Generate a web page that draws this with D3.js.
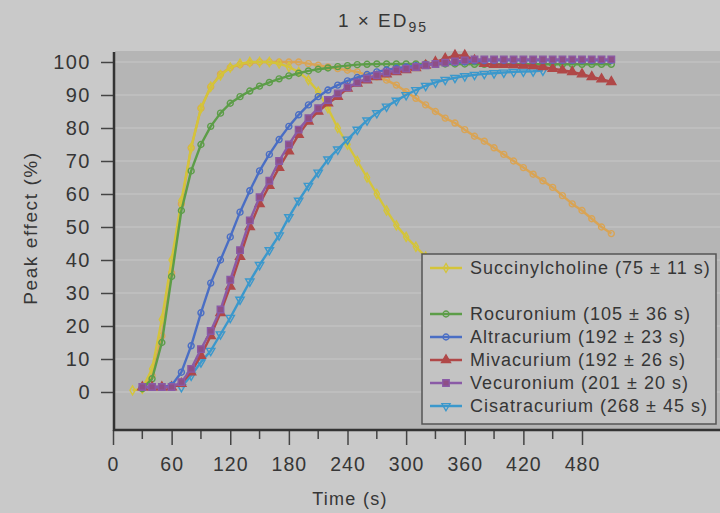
<!DOCTYPE html>
<html><head><meta charset="utf-8">
<script src="https://cdnjs.cloudflare.com/ajax/libs/d3/7.8.5/d3.min.js"></script>
<style>
html,body{margin:0;padding:0;background:#c9c9c9;}
svg{display:block;font-family:"Liberation Sans",Arial,sans-serif;}
</style></head><body>
<svg id="c" width="720" height="513"></svg>
<script>
// ---- data ----
const times = [20,30,40,50,60,70,80,90,100,110,120,130,140,150,160,170,180,190,200,210,220,230,240,250,260,270,280,290,300,310,320,330,340,350,360,370,380,390,400,410,420,430,440,450,460,470,480,490,500,510];
const succinylcholine = [0.5,1,7,22,40,58,74,86,92.5,96,98.3,99.5,100,100,100,99.5,98.5,97,94.5,91,86,80,75,70,65,60,55,50.5,47,44,41,38,null,null,null,null,null,null,null,null,null,null,null,null,null,null,null,null,null,null];
const succinylcholine2 = [null,1,5,17,36,57,74,86,92.5,96.3,98.3,99.2,99.7,100,100,100,100,100,99.5,99,98.5,98,97.5,97,96,95.5,94.5,93,91,89,87,85,83,81.5,79.5,77.5,76,74,72,70,68,66,64,62,59.5,57,55,52.5,50,48];
const rocuronium = [null,1,4,15,35,55,67,75,80.5,84.5,87.5,89.5,91.2,92.7,93.8,94.9,95.8,96.6,97.3,97.8,98.2,98.6,98.9,99.2,99.3,99.4,99.4,99.4,99.4,99.4,99.4,99.4,99.4,99.4,99.4,99.3,99.3,99.3,99.3,99.3,99.3,99.3,99.3,99.3,99.3,99.3,99.3,99.3,99.3,99.3];
const altracurium = [null,1.5,1.5,1.5,2,6,14,24,33,40,47,54.5,61,67,72,76.5,80.5,84,87,89.5,91.5,93,94.3,95.3,96.2,97,97.6,98.1,98.5,98.9,99.2,99.5,99.7,99.9,100,100.3,100.4,100.5,100.5,100.5,100.5,100.5,100.5,100.5,100.5,100.5,100.5,100.5,100.5,100.5];
const mivacurium = [null,1.5,1.5,1.5,1.5,2.5,6,11,17,24,32,41,50,57,62.5,68,73,78,82,85,87.5,89.5,92,93.5,94.5,95.5,96.3,97,97.6,98.2,99,100,101,102,102,100.5,99.5,99.2,99.2,99.1,99,98.8,98.5,98,97.5,97,96.3,95.5,94.8,94];
const vecuronium = [null,1.5,1.5,1.5,1.5,3,7,13,18.5,25,34,43,52,59,64,70,75,79.5,83,86,88.5,90.5,92.3,93.8,95,96,96.8,97.5,98,98.5,99,99.4,99.8,100.2,100.5,100.8,100.8,100.8,100.8,100.8,100.8,100.8,100.8,100.8,100.8,100.8,100.8,100.8,100.8,100.8];
const cisatracurium = [null,null,null,null,null,1.5,5,9,12.5,17.5,22.5,28,33.5,38.5,43,47.5,53,58,62.5,66.5,70.5,73.5,76.5,79.5,82.3,84.5,86.5,88.3,90,91.5,92.8,93.8,94.6,95.2,95.7,96.1,96.4,96.6,96.8,97,97.1,97.2,97.4,null,null,null,null,null,null,null];
const legendLabels = ["Succinylcholine (75 \u00b1 11 s)","","Rocuronium (105 \u00b1 36 s)","Altracurium (192 \u00b1 23 s)","Mivacurium (192 \u00b1 26 s)","Vecuronium (201 \u00b1 20 s)","Cisatracurium (268 \u00b1 45 s)"];
const xTicks = [0,60,120,180,240,300,360,420,480];
const xMinor = [30,90,150,210,270,330,390,450];
const yTicks = [0,10,20,30,40,50,60,70,80,90,100];

const series = [
  {name:"succ2", vals:succinylcholine2, color:"#d9a455", marker:"circle", fill:"none"},
  {name:"succ", vals:succinylcholine, color:"#d4c43a", marker:"diamond", fill:"none"},
  {name:"roc", vals:rocuronium, color:"#5c9d48", marker:"circle", fill:"none"},
  {name:"cis", vals:cisatracurium, color:"#3b98cc", marker:"triangleDown", fill:"none"},
  {name:"miv", vals:mivacurium, color:"#b04848", marker:"triangle", fill:"#b04848"},
  {name:"alt", vals:altracurium, color:"#4a6ec4", marker:"circle", fill:"none"},
  {name:"vec", vals:vecuronium, color:"#8a5aa6", marker:"square", fill:"#8e4f86"}
];
const legendSeries = ["succ",null,"roc","alt","miv","vec","cis"];

// ---- drawing ----
const svg = d3.select("#c");
const x = d3.scaleLinear().domain([0,480]).range([113,582]);
const y = d3.scaleLinear().domain([0,100]).range([392,62]);
const plotL = 115, plotR = 720, plotT = 51, plotB = 430;

svg.append("rect").attr("x",plotL).attr("y",plotT).attr("width",plotR-plotL).attr("height",plotB-plotT).attr("fill","#b5b5b5");
svg.append("g").selectAll("line").data(yTicks).join("line")
  .attr("x1",plotL).attr("x2",plotR).attr("y1",d=>y(d)).attr("y2",d=>y(d))
  .attr("stroke","#c8c8c8").attr("stroke-width",1.2);

const sym = {
  circle: d3.symbol().type(d3.symbolCircle).size(28),
  diamond: d3.symbol().type(d3.symbolDiamond).size(24),
  triangle: d3.symbol().type(d3.symbolTriangle).size(36),
  triangleDown: d3.symbol().type(d3.symbolTriangle).size(30),
  square: d3.symbol().type(d3.symbolSquare).size(42)
};

const line = d3.line().defined(d=>d[1]!==null).x(d=>x(d[0])).y(d=>y(d[1]));
series.forEach(s=>{
  const pts = times.map((t,i)=>[t,s.vals[i]]);
  const g = svg.append("g");
  g.append("path").datum(pts).attr("d",line).attr("fill","none").attr("stroke",s.color).attr("stroke-width",2.4).attr("stroke-linejoin","round");
  g.selectAll("path.m").data(pts.filter(d=>d[1]!==null)).join("path").attr("class","m")
    .attr("d",sym[s.marker])
    .attr("transform",d=>`translate(${x(d[0])},${y(d[1])})${s.marker==="triangleDown"?" rotate(180)":""}`)
    .attr("fill",s.fill).attr("stroke",s.color).attr("stroke-width",1.4);
});

// axes
const textColor = "#363636";
const gy = svg.append("g").attr("transform",`translate(${plotL-2},0)`)
  .call(d3.axisLeft(y).tickValues(yTicks).tickSize(12).tickPadding(10));
gy.select(".domain").remove();
gy.selectAll(".tick line").attr("stroke","#444").attr("stroke-width",1.5);
gy.selectAll(".tick text").attr("fill",textColor).attr("font-size",20).attr("letter-spacing","1.5px").attr("font-family","Liberation Sans, Arial, sans-serif");

const gx = svg.append("g").attr("transform",`translate(0,${plotB})`)
  .call(d3.axisBottom(x).tickValues(xTicks).tickSize(15).tickPadding(12));
gx.select(".domain").remove();
gx.selectAll(".tick line").attr("stroke","#444").attr("stroke-width",1.5);
gx.selectAll(".tick text").attr("fill",textColor).attr("font-size",19.5).attr("letter-spacing","1px").attr("font-family","Liberation Sans, Arial, sans-serif");
svg.append("g").selectAll("line").data(xMinor).join("line")
  .attr("x1",d=>x(d)).attr("x2",d=>x(d)).attr("y1",plotB).attr("y2",plotB+9)
  .attr("stroke","#444").attr("stroke-width",1.5);

svg.append("line").attr("x1",plotL-1).attr("x2",plotL-1).attr("y1",plotT+1).attr("y2",plotB+1).attr("stroke","#333").attr("stroke-width",2.5);
svg.append("line").attr("x1",plotL-2).attr("x2",plotR).attr("y1",plotB).attr("y2",plotB).attr("stroke","#333").attr("stroke-width",2.5);

// titles
const title = svg.append("text").attr("x",383).attr("y",27).attr("text-anchor","middle").attr("fill",textColor).attr("font-size",19).attr("letter-spacing","2px");
title.append("tspan").text("1 \u00d7 ED");
title.append("tspan").attr("font-size",14).attr("dy",5).text("95");
svg.append("text").attr("x",350).attr("y",505).attr("text-anchor","middle").attr("fill",textColor).attr("font-size",18).attr("letter-spacing","1.3px").text("Time (s)");
svg.append("text").attr("transform","translate(37,228) rotate(-90)").attr("text-anchor","middle").attr("fill",textColor).attr("font-size",19).attr("letter-spacing","1.6px").text("Peak effect (%)");

// legend
const lg = svg.append("g");
lg.append("rect").attr("x",422).attr("y",254).attr("width",294).attr("height",170).attr("fill","#c3c3c3").attr("stroke","#555").attr("stroke-width",1.5);
legendLabels.forEach((lab,i)=>{
  const key = legendSeries[i];
  const cy = 268 + i*23;
  if(key){
    const s = series.find(d=>d.name===key);
    lg.append("line").attr("x1",430).attr("x2",462).attr("y1",cy).attr("y2",cy).attr("stroke",s.color).attr("stroke-width",2.5);
    lg.append("path").attr("d",sym[s.marker]).attr("transform",`translate(446,${cy})${s.marker==="triangleDown"?" rotate(180)":""}`)
      .attr("fill",s.fill).attr("stroke",s.color).attr("stroke-width",1.3);
  }
  lg.append("text").attr("x",470).attr("y",cy).attr("dy","0.35em").attr("fill",textColor).attr("font-size",18).attr("letter-spacing","1px").text(lab);
});
</script>
</body></html>
